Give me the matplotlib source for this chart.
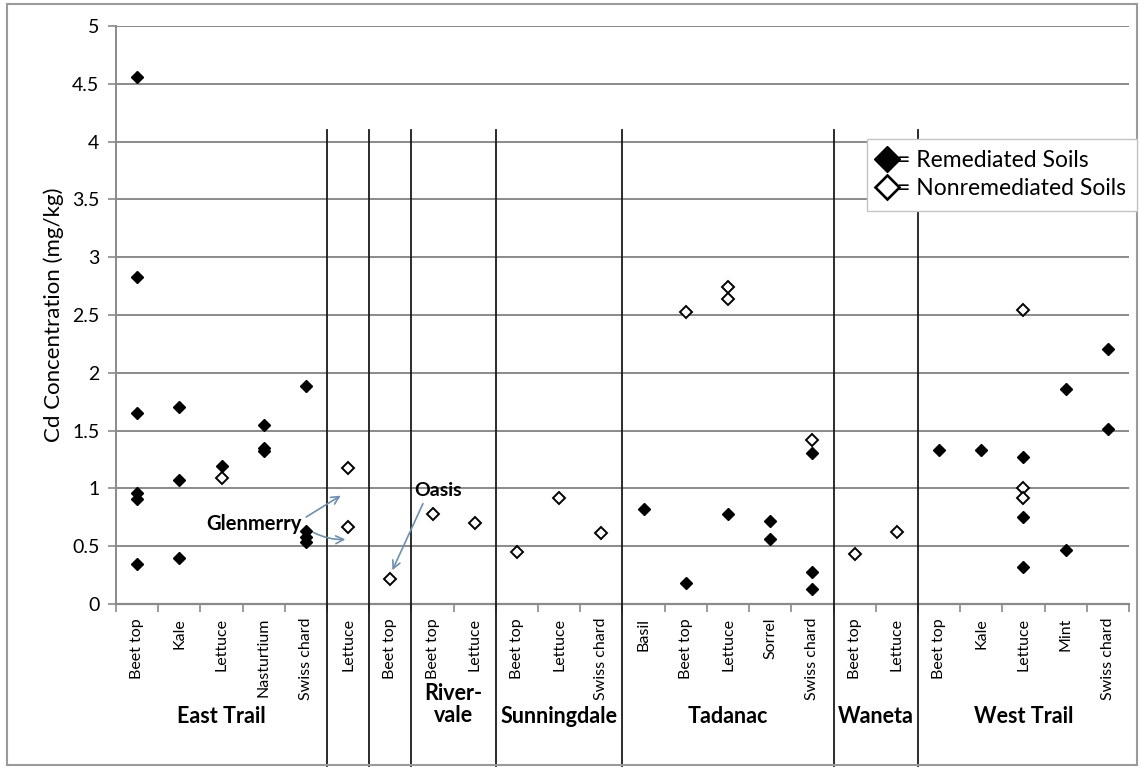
import matplotlib.pyplot as plt
from matplotlib.lines import Line2D
from matplotlib.patches import Rectangle
from matplotlib.ticker import FixedLocator

plt.rcParams["font.family"] = ["Lato", "DejaVu Sans"]

# crop for each x position, left to right
crops = ["Beet top", "Kale", "Lettuce", "Nasturtium", "Swiss chard",
         "Lettuce",
         "Beet top",
         "Beet top", "Lettuce",
         "Beet top", "Lettuce", "Swiss chard",
         "Basil", "Beet top", "Lettuce", "Sorrel", "Swiss chard",
         "Beet top", "Lettuce",
         "Beet top", "Kale", "Lettuce", "Mint", "Swiss chard"]

# neighbourhood groups and how many crops each one spans
group_names = ["East Trail", "", "", "River-\nvale", "Sunningdale", "Tadanac", "Waneta", "West Trail"]
group_sizes = [5, 1, 1, 2, 3, 5, 2, 5]

# Cd concentration (mg/kg), one list per crop position
remediated = [
    [4.56, 2.83, 1.65, 0.96, 0.91, 0.35],
    [1.70, 1.07, 0.40],
    [1.19],
    [1.55, 1.35, 1.32],
    [1.89, 0.63, 0.58, 0.54],
    [], [], [], [], [], [], [],
    [0.82],
    [0.18],
    [0.78],
    [0.72, 0.56],
    [1.31, 0.28, 0.13],
    [], [],
    [1.33],
    [1.33],
    [1.27, 0.75, 0.32],
    [1.86, 0.47],
    [2.21, 1.51],
]
nonremediated = [
    [], [],
    [1.09],
    [], [],
    [1.18, 0.67],
    [0.22],
    [0.78], [0.70],
    [0.45], [0.92], [0.61],
    [],
    [2.53],
    [2.74, 2.64],
    [],
    [1.42],
    [0.43], [0.62],
    [], [],
    [2.54, 1.00, 0.92],
    [], [],
]

GRID = "#8a8a8a"
ARROW = "#6f8fae"


def flatten(series):
    xs, ys = [], []
    for i, vals in enumerate(series):
        for v in vals:
            xs.append(i)
            ys.append(v)
    return xs, ys


fig = plt.figure(figsize=(11.44, 7.71), dpi=100)
ax = fig.add_axes([116 / 1144, 167 / 771, 1013 / 1144, 578 / 771])

n = len(crops)
ax.set_xlim(-0.5, n - 0.5)
ax.set_ylim(0, 5)

# horizontal gridlines
for y in [0.5, 1, 1.5, 2, 2.5, 3, 3.5, 4, 4.5, 5]:
    ax.axhline(y, color=GRID, lw=1.4, zorder=1)

for side in ("top", "right", "bottom"):
    ax.spines[side].set_visible(False)
ax.spines["left"].set_color(GRID)
ax.spines["left"].set_linewidth(1.4)
ax.axhline(0, color=GRID, lw=1.6, zorder=1, clip_on=False)

ax.set_yticks([0, 0.5, 1, 1.5, 2, 2.5, 3, 3.5, 4, 4.5, 5])
ax.set_yticklabels(["0", "0.5", "1", "1.5", "2", "2.5", "3", "3.5", "4", "4.5", "5"], fontsize=14)
ax.tick_params(axis="y", length=6, width=1.2, color=GRID, pad=6)

ax.set_xticks(range(n))
ax.set_xticklabels(crops, rotation=90, fontsize=11.5, va="top")
ax.tick_params(axis="x", length=0, pad=10)
ax.xaxis.set_minor_locator(FixedLocator([i - 0.5 for i in range(n + 1)]))
ax.tick_params(axis="x", which="minor", length=6, width=1.2, color=GRID)

ax.set_ylabel("Cd Concentration (mg/kg)", fontsize=16, labelpad=6)

# separators between neighbourhoods
bounds = []
acc = 0
for s in group_sizes:
    acc += s
    bounds.append(acc)
for b in bounds[:-1]:
    ax.plot([b - 0.5, b - 0.5], [4.1, -1.4], color="#1a1a1a", lw=1.3, clip_on=False, zorder=2)

# group labels under the crop names
start = 0
for name, s in zip(group_names, group_sizes):
    xc = start + (s - 1) / 2
    if name:
        yc = -0.87 if "\n" in name else -0.97
        ax.text(xc, yc, name, ha="center", va="center", fontsize=15.5, fontweight="bold",
                linespacing=1.1, clip_on=False)
    start += s

# points
xr, yr = flatten(remediated)
xn, yn = flatten(nonremediated)
ax.plot(xr, yr, ls="none", marker="D", ms=6.3, mfc="black", mec="black", zorder=4)
ax.plot(xn, yn, ls="none", marker="D", ms=6.3, mfc="white", mec="black", mew=1.4, zorder=4)

# annotations
ax.text(2.77, 0.69, "Glenmerry", ha="center", va="center", fontsize=14.5, fontweight="bold", zorder=5)
ax.annotate("", xy=(4.88, 0.95), xytext=(3.95, 0.74),
            arrowprops=dict(arrowstyle="->", color=ARROW, lw=1.2, mutation_scale=14), zorder=5)
ax.annotate("", xy=(5.0, 0.56), xytext=(4.12, 0.63),
            arrowprops=dict(arrowstyle="->", color=ARROW, lw=1.2, mutation_scale=14,
                            connectionstyle="arc3,rad=0.15"), zorder=5)
ax.text(7.13, 0.98, "Oasis", ha="center", va="center", fontsize=14, fontweight="bold", zorder=5)
ax.annotate("", xy=(6.02, 0.27), xytext=(6.8, 0.89),
            arrowprops=dict(arrowstyle="->", color=ARROW, lw=1.2, mutation_scale=14), zorder=5)

# legend
handles = [
    Line2D([], [], ls="none", marker="D", ms=13, mfc="black", mec="black"),
    Line2D([], [], ls="none", marker="D", ms=12, mfc="white", mec="black", mew=1.9),
]
leg = fig.legend(handles, ["= Remediated Soils", "= Nonremediated Soils"],
                 loc="upper left", bbox_to_anchor=(867 / 1144, 1 - 139 / 771),
                 fontsize=16.5, handlelength=0.75, handletextpad=0.05, borderpad=0.5,
                 labelspacing=0.3, borderaxespad=0, fancybox=False, framealpha=1)
leg.get_frame().set_edgecolor("#c4c4c4")
leg.get_frame().set_linewidth(1.0)

# outer frame
fig.add_artist(Rectangle((7 / 1144, 6 / 771), 1130 / 1144, 761 / 771, transform=fig.transFigure,
                         fill=False, edgecolor="#9a9a9a", lw=1.5))

fig.savefig("out.png", dpi=100)
